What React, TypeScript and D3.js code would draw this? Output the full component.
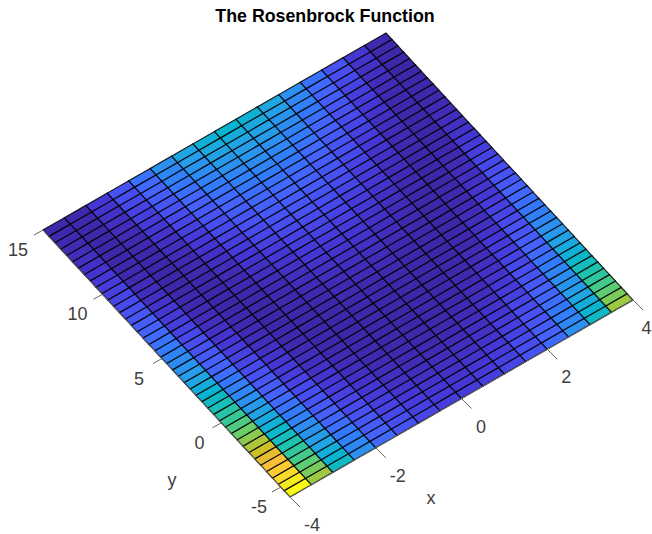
import React, {useEffect, useRef} from 'react'
import * as d3 from 'd3'

const xGrid = [-4, -3.5, -3, -2.5, -2, -1.5, -1, -0.5, 0, 0.5, 1, 1.5, 2, 2.5, 3, 3.5, 4]
const yGrid = [
  -6, -5.5, -5, -4.5, -4, -3.5, -3, -2.5, -2, -1.5, -1, -0.5, 0, 0.5, 1, 1.5, 2, 2.5, 3, 3.5, 4, 4.5,
  5, 5.5, 6, 6.5, 7, 7.5, 8, 8.5, 9, 9.5, 10, 10.5, 11, 11.5, 12, 12.5, 13, 13.5, 14, 14.5, 15,
]
const xTicks = [-4, -2, 0, 2, 4]
const yTicks = [-5, 0, 5, 10, 15]

// nudges for the tick labels
const xLabelNudge = [22, 22, 19.5, 19, 13.5]
const yLabelNudge = [-22, -22, -23, -25, -25]

// cell heights in thousands, bottom row first. columns at +x and -x read the same
const zX40 = [48.4, 46.2, 44.1, 42, 40, 38, 36.1, 34.2, 32.4, 30.6, 28.9, 27.2, 25.6, 24, 22.5, 21, 19.6, 18.2, 16.9, 15.6, 14.4, 13.2, 12.1, 11, 10, 9, 8.1, 7.2, 6.4, 5.6, 4.9, 4.2, 3.6, 3, 2.5, 2, 1.6, 1.2, 0.9, 0.6, 0.4, 0.2]
const zX35 = [33.3, 31.5, 29.8, 28.1, 26.4, 24.8, 23.3, 21.8, 20.3, 18.9, 17.6, 16.3, 15, 13.8, 12.7, 11.6, 10.5, 9.5, 8.6, 7.7, 6.8, 6, 5.3, 4.6, 3.9, 3.3, 2.8, 2.3, 1.8, 1.4, 1.1, 0.8, 0.5, 0.3, 0.2, 0.1, 0, 0, 0.1, 0.2, 0.3, 0.5]
const zX30 = [22.5, 21, 19.6, 18.2, 16.9, 15.6, 14.4, 13.2, 12.1, 11, 10, 9, 8.1, 7.2, 6.4, 5.6, 4.9, 4.2, 3.6, 3, 2.5, 2, 1.6, 1.2, 0.9, 0.6, 0.4, 0.2, 0.1, 0, 0, 0, 0.1, 0.2, 0.4, 0.6, 0.9, 1.2, 1.6, 2, 2.5, 3]
const zX25 = [15, 13.8, 12.7, 11.6, 10.5, 9.5, 8.6, 7.7, 6.8, 6, 5.3, 4.6, 3.9, 3.3, 2.8, 2.3, 1.8, 1.4, 1.1, 0.8, 0.5, 0.3, 0.2, 0.1, 0, 0, 0.1, 0.2, 0.3, 0.5, 0.8, 1.1, 1.4, 1.8, 2.3, 2.8, 3.3, 3.9, 4.6, 5.3, 6, 6.8]
const zX20 = [10, 9, 8.1, 7.2, 6.4, 5.6, 4.9, 4.2, 3.6, 3, 2.5, 2, 1.6, 1.2, 0.9, 0.6, 0.4, 0.2, 0.1, 0, 0, 0, 0.1, 0.2, 0.4, 0.6, 0.9, 1.2, 1.6, 2, 2.5, 3, 3.6, 4.2, 4.9, 5.6, 6.4, 7.2, 8.1, 9, 10, 11]
const zX15 = [6.8, 6, 5.3, 4.6, 3.9, 3.3, 2.8, 2.3, 1.8, 1.4, 1.1, 0.8, 0.5, 0.3, 0.2, 0.1, 0, 0, 0.1, 0.2, 0.3, 0.5, 0.8, 1.1, 1.4, 1.8, 2.3, 2.8, 3.3, 3.9, 4.6, 5.3, 6, 6.8, 7.7, 8.6, 9.5, 10.5, 11.6, 12.7, 13.8, 15]
const zX10 = [4.9, 4.2, 3.6, 3, 2.5, 2, 1.6, 1.2, 0.9, 0.6, 0.4, 0.2, 0.1, 0, 0, 0, 0.1, 0.2, 0.4, 0.6, 0.9, 1.2, 1.6, 2, 2.5, 3, 3.6, 4.2, 4.9, 5.6, 6.4, 7.2, 8.1, 9, 10, 11, 12.1, 13.2, 14.4, 15.6, 16.9, 18.2]
const zX05 = [3.9, 3.3, 2.8, 2.3, 1.8, 1.4, 1.1, 0.8, 0.5, 0.3, 0.2, 0.1, 0, 0, 0.1, 0.2, 0.3, 0.5, 0.8, 1.1, 1.4, 1.8, 2.3, 2.8, 3.3, 3.9, 4.6, 5.3, 6, 6.8, 7.7, 8.6, 9.5, 10.5, 11.6, 12.7, 13.8, 15, 16.3, 17.6, 18.9, 20.3]
const zX00 = [3.6, 3, 2.5, 2, 1.6, 1.2, 0.9, 0.6, 0.4, 0.2, 0.1, 0, 0, 0, 0.1, 0.2, 0.4, 0.6, 0.9, 1.2, 1.6, 2, 2.5, 3, 3.6, 4.2, 4.9, 5.6, 6.4, 7.2, 8.1, 9, 10, 11, 12.1, 13.2, 14.4, 15.6, 16.9, 18.2, 19.6, 21]

const zColumns = [zX40, zX35, zX30, zX25, zX20, zX15, zX10, zX05, zX00, zX05, zX10, zX15, zX20, zX25, zX30, zX35]

const parula = [
  '#3e26a8', '#4537d5', '#484df0', '#4563fd', '#327bfc', '#2b91ef', '#20a5e3', '#08b5d0', '#19bfb5',
  '#37c897', '#63cd6f', '#9dc942', '#d1bf27', '#f8ba3d', '#fccf30', '#f5e327', '#f9fb15',
]

// view is nearly straight down, so each data axis maps onto the page linearly
const xToLeft = d3.scaleLinear().domain([-4, 4]).range([0, 343])
const xToTop = d3.scaleLinear().domain([-4, 4]).range([0, -197])
const yToLeft = d3.scaleLinear().domain([-6, 15]).range([290, 43])
const yToTop = d3.scaleLinear().domain([-6, 15]).range([497, 230])

// y ticks sit a little off the mesh scale in the picture
const yTickLeft = d3.scaleLinear().domain([-5, 15]).range([281, 43])
const yTickTop = d3.scaleLinear().domain([-5, 15]).range([487, 230])

const project = (x: number, y: number): [number, number] => [
  xToLeft(x) + yToLeft(y),
  xToTop(x) + yToTop(y),
]

export default function App() {
  const ref = useRef<SVGSVGElement>(null)

  useEffect(() => {
    const svg = d3.select(ref.current)
    svg.selectAll('*').remove()

    const color = d3
      .scaleLinear<string>()
      .domain(parula.map((_, i) => (48.4 * i) / (parula.length - 1)))
      .range(parula)

    const cells = zColumns.flatMap((col, i) =>
      col.map((z, j) => ({i, j, z}))
    )
    const line = d3.line()

    svg
      .append('g')
      .selectAll('path')
      .data(cells)
      .join('path')
      .attr('d', (d) =>
        line([
          project(xGrid[d.i], yGrid[d.j]),
          project(xGrid[d.i + 1], yGrid[d.j]),
          project(xGrid[d.i + 1], yGrid[d.j + 1]),
          project(xGrid[d.i], yGrid[d.j + 1]),
        ]) + 'Z'
      )
      .attr('fill', (d) => color(d.z))
      .attr('stroke', '#000')
      .attr('stroke-width', 1.2)
      .attr('stroke-opacity', 0.85)

    // axis lines and ticks
    const axes = svg.append('g').attr('stroke', '#666').attr('stroke-width', 1).attr('fill', 'none')
    axes.append('path').attr('d', line([project(-4, -6), project(4, -6)]))
    axes.append('path').attr('d', line([project(-4, -6), project(-4, 15)]))
    axes
      .selectAll('.xtick')
      .data(xTicks)
      .join('path')
      .attr('class', 'xtick')
      .attr('d', (d) => {
        const [px, py] = project(d, -6)
        return line([[px, py], [px + 10, py + 10]])
      })
    axes
      .selectAll('.ytick')
      .data(yTicks)
      .join('path')
      .attr('class', 'ytick')
      .attr('d', (d) => {
        const px = yTickLeft(d)
        const py = yTickTop(d)
        return line([[px, py], [px - 9, py + 5]])
      })

    const labels = svg
      .append('g')
      .attr('font-family', '"Liberation Sans", Arial, sans-serif')
      .attr('font-size', 18)
      .attr('fill', '#404040')
      .attr('text-anchor', 'middle')
    labels
      .selectAll('.xlabel')
      .data(xTicks)
      .join('text')
      .attr('class', 'xlabel')
      .attr('x', (d, i) => project(d, -6)[0] + xLabelNudge[i])
      .attr('y', (d) => project(d, -6)[1] + 34)
      .text((d) => d)
    labels
      .selectAll('.ylabel')
      .data(yTicks)
      .join('text')
      .attr('class', 'ylabel')
      .attr('x', (d, i) => yTickLeft(d) + yLabelNudge[i])
      .attr('y', (d) => yTickTop(d) + 26)
      .text((d) => d)
    labels.append('text').attr('x', 431).attr('y', 504).text('x')
    labels.append('text').attr('x', 172).attr('y', 486).text('y')

    svg
      .append('text')
      .attr('x', 325)
      .attr('y', 22)
      .attr('text-anchor', 'middle')
      .attr('font-family', '"Liberation Sans", Arial, sans-serif')
      .attr('font-size', 17.8)
      .attr('font-weight', 'bold')
      .attr('fill', '#000')
      .text('The Rosenbrock Function')
  }, [])

  return (
    <svg
      ref={ref}
      width={652}
      height={534}
      style={{position: 'absolute', left: 0, top: 0, background: '#fff'}}
    />
  )
}
